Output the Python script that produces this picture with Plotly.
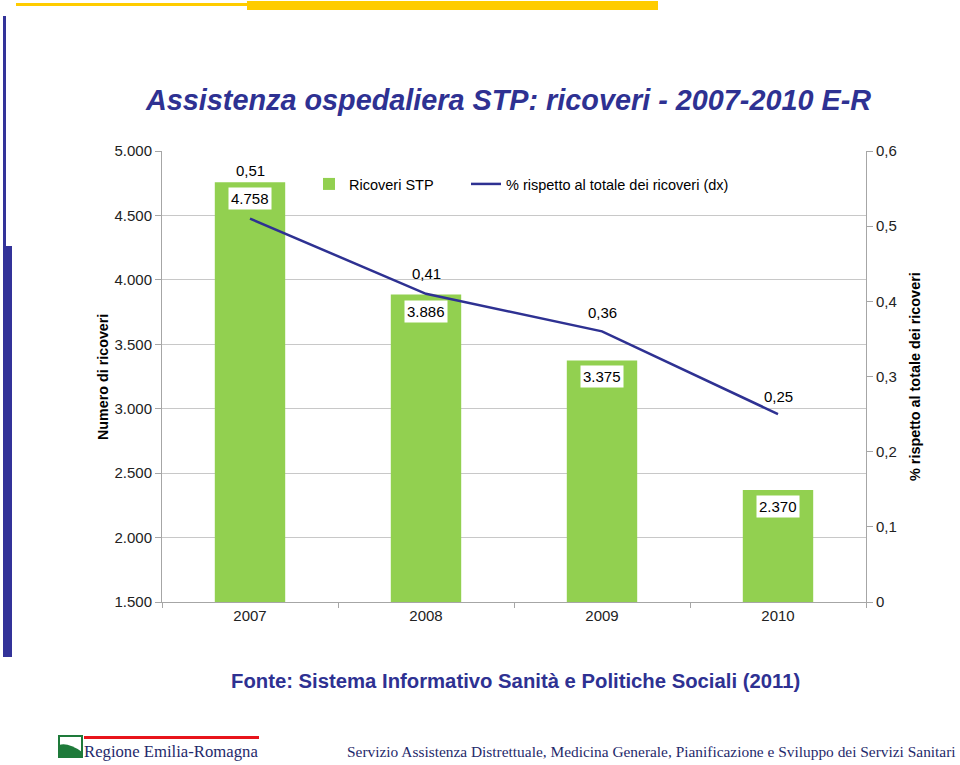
import plotly.graph_objects as go

# ---- data ----
years = ["2007", "2008", "2009", "2010"]
ricoveri_stp = [4758, 3886, 3375, 2370]
pct_totale = [0.51, 0.41, 0.36, 0.25]
pct_label_shift = [48, 20, 19, 18]

W, H = 960, 765
L, R, T, B = 162, 866, 151, 602  # plot area in pixels

def px(x):
    return (x - L) / (R - L)

def py(y):
    return (B - y) / (B - T)

NAVY = "#2E3192"
GREEN = "#92D050"
FONT = "Liberation Sans, Arial"

fig = go.Figure()
fig.add_trace(go.Bar(
    x=years, y=ricoveri_stp, name="Ricoveri STP",
    marker=dict(color=GREEN, line=dict(width=0)), width=0.4, legend="legend",
))
fig.add_trace(go.Scatter(
    x=years, y=pct_totale, name="% rispetto al totale dei ricoveri (dx)",
    mode="lines", line=dict(color=NAVY, width=2.5), yaxis="y2", legend="legend2",
))

def fmt_int(v):
    return f"{v:,}".replace(",", ".")

def fmt_pct(v):
    return f"{v:.2f}".replace(".", ",")

annotations = []
for i, v in enumerate(ricoveri_stp):
    annotations.append(dict(
        x=i, y=v, xref="x", yref="y", text=fmt_int(v), showarrow=False,
        yanchor="top", yshift=-5, bgcolor="white", borderpad=2,
        font=dict(family=FONT, size=15, color="#000000"),
    ))
for i, (v, s) in enumerate(zip(pct_totale, pct_label_shift)):
    annotations.append(dict(
        x=i, y=v, xref="x", yref="y2", text=fmt_pct(v), showarrow=False,
        yanchor="middle", yshift=s,
        font=dict(family=FONT, size=15, color="#000000"),
    ))

# axis titles
annotations.append(dict(
    x=px(103), y=py(377), xref="paper", yref="paper", text="<b>Numero di ricoveri</b>",
    textangle=-90, showarrow=False, xanchor="center", yanchor="middle",
    font=dict(family=FONT, size=14.3, color="#000000"),
))
annotations.append(dict(
    x=px(915), y=py(377), xref="paper", yref="paper",
    text="<b>% rispetto al totale dei ricoveri</b>",
    textangle=-90, showarrow=False, xanchor="center", yanchor="middle",
    font=dict(family=FONT, size=14.4, color="#000000"),
))
# slide title
annotations.append(dict(
    x=px(143), y=py(100), xref="paper", yref="paper",
    text="<b><i>Assistenza ospedaliera STP: ricoveri - 2007-2010 E-R</i></b>",
    showarrow=False, xanchor="left", yanchor="middle",
    font=dict(family=FONT, size=28.8, color=NAVY),
))
# source
annotations.append(dict(
    x=px(515), y=py(681), xref="paper", yref="paper",
    text="<b>Fonte: Sistema Informativo Sanità e Politiche Sociali (2011)</b>",
    showarrow=False, xanchor="center", yanchor="middle",
    font=dict(family=FONT, size=20.3, color=NAVY),
))
# footer
annotations.append(dict(
    x=px(82), y=py(751), xref="paper", yref="paper",
    text="Regione Emilia-Romagna", showarrow=False, xanchor="left", yanchor="middle",
    font=dict(family="Liberation Serif, Times New Roman", size=16.7, color="#1F2A6B"),
))
annotations.append(dict(
    x=px(958), y=py(751), xref="paper", yref="paper",
    text="Servizio Assistenza Distrettuale, Medicina Generale, Pianificazione e Sviluppo dei Servizi Sanitari",
    showarrow=False, xanchor="right", yanchor="middle",
    font=dict(family="Liberation Serif, Times New Roman", size=15.4, color="#1F2A6B"),
))

shapes = []
def rect(x0, y0, x1, y1, color, line=None):
    shapes.append(dict(
        type="rect", xref="paper", yref="paper",
        x0=px(x0), x1=px(x1), y0=py(y1), y1=py(y0),
        fillcolor=color, line=line or dict(width=0), layer="above",
    ))

# decorative top bars
rect(16, 3, 247, 6, "#FFCC00")
rect(247, 1, 658, 10, "#FFCC00")
# left vertical bars
rect(3, 16, 6, 246, "#333399")
rect(3, 246, 12, 657, "#333399")
# logo
rect(59, 736, 82, 757, "white", dict(color="#1E7A3A", width=2))
shapes.append(dict(
    type="path", xref="paper", yref="paper", layer="above",
    path=f"M {px(59)} {py(745)} Q {px(68)} {py(742)} {px(82)} {py(752)} L {px(82)} {py(757)} L {px(59)} {py(757)} Z",
    fillcolor="#1E7A3A", line=dict(width=0),
))
rect(84, 736, 259, 739, "#E8141B")

legend_common = dict(
    orientation="h", y=py(184), xanchor="left", yanchor="middle",
    font=dict(family=FONT, size=14.5, color="#000000"), itemwidth=30,
    bgcolor="rgba(0,0,0,0)",
)

fig.update_layout(
    width=W, height=H,
    margin=dict(l=L, r=W - R, t=T, b=H - B),
    paper_bgcolor="white", plot_bgcolor="white",
    separators=",.",
    font=dict(family=FONT, size=15, color="#222222"),
    showlegend=True,
    legend=dict(x=px(309), **legend_common),
    legend2=dict(x=px(466), **legend_common),
    xaxis=dict(
        type="category",
        range=[-0.5, 3.5], showline=True, linecolor="#A6A6A6", linewidth=1,
        ticks="outside", tickson="boundaries", ticklen=5, tickcolor="#A6A6A6",
        showgrid=False, tickfont=dict(size=15, color="#222222"),
    ),
    yaxis=dict(
        range=[1500, 5000], dtick=500, tickformat=",d", showline=True,
        linecolor="#A6A6A6", linewidth=1, ticks="outside", ticklen=6,
        tickcolor="#A6A6A6", showgrid=True, gridcolor="#C8C8C8", gridwidth=1,
        zeroline=False, tickfont=dict(size=15, color="#222222"),
    ),
    yaxis2=dict(
        range=[0, 0.6], dtick=0.1, tickformat=".1~f", overlaying="y", side="right",
        showline=True, linecolor="#A6A6A6", linewidth=1, ticks="outside", ticklen=6,
        tickcolor="#A6A6A6", showgrid=False, zeroline=False,
        tickfont=dict(size=15, color="#222222"),
    ),
    annotations=annotations,
    shapes=shapes,
)

fig.write_html(
    "out.html",
    config={"displayModeBar": False},
    post_script="document.body.style.margin='0';",
)
